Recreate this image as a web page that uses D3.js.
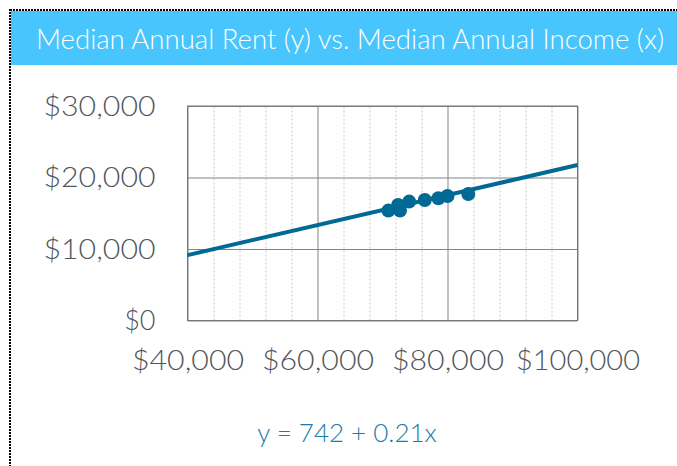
<!DOCTYPE html>
<html>
<head>
<meta charset="utf-8">
<script src="https://cdn.jsdelivr.net/npm/d3@7"></script>
<style>
  body { margin: 0; background: #fff; }
  svg { display: block; font-family: Lato, "Open Sans", sans-serif; }
  .tick text { fill: #50565c; font-weight: 300; font-family: Lato, "Open Sans", sans-serif; }
</style>
</head>
<body>
<div class="chart"></div>
<script>
// data
var income = [70900, 72400, 72700, 74100, 76500, 78600, 80000, 83200];
var rent = [15370, 16170, 15370, 16630, 16860, 17100, 17420, 17700];
var xTicks = [40000, 60000, 80000, 100000];
var yTicks = [0, 10000, 20000, 30000];
var xMinor = [44000, 48000, 52000, 56000, 64000, 68000, 72000, 76000, 84000, 88000, 92000, 96000];
var intercept = 742, slope = 0.21;
var title = 'Median Annual Rent (y) vs. Median Annual Income (x)';
var equation = 'y = 742 + 0.21x';

var W = 677, H = 466;
var margin = {top: 106, left: 187.5};
var width = 390, height = 214.5;

var svg = d3.select('.chart')
  .append('svg')
    .attr('width', W)
    .attr('height', H);

// dotted frame on top and left
svg.append('line')
  .attr('x1', 10).attr('x2', W).attr('y1', 10).attr('y2', 10)
  .attr('stroke', '#000').attr('stroke-width', 2).attr('stroke-dasharray', '2,1');
svg.append('line')
  .attr('x1', 10).attr('x2', 10).attr('y1', 9).attr('y2', H)
  .attr('stroke', '#000').attr('stroke-width', 2).attr('stroke-dasharray', '2,1');

// title banner
svg.append('rect')
  .attr('x', 11).attr('y', 11).attr('width', W - 11).attr('height', 54)
  .attr('fill', '#47c5fc');
svg.append('text')
  .attr('x', 350).attr('y', 49)
  .attr('text-anchor', 'middle')
  .attr('fill', '#fff')
  .attr('font-size', 28)
  .attr('font-weight', 300)
  .attr('textLength', 628)
  .attr('lengthAdjust', 'spacingAndGlyphs')
  .text(title);

var g = svg.append('g')
  .attr('transform', `translate(${margin.left}, ${margin.top})`);

var xScale = d3.scaleLinear()
  .domain([40000, 100000])
  .range([0, width]);

var yScale = d3.scaleLinear()
  .domain([0, 30000])
  .range([height, 0]);

// minor dotted grid
g.append('g')
  .attr('transform', `translate(0, ${height})`)
  .call(d3.axisBottom(xScale).tickValues(xMinor).tickSize(-height).tickFormat(''))
  .call(a => a.select('.domain').remove())
  .selectAll('line')
    .attr('stroke', '#c8c8c8')
    .attr('stroke-dasharray', '2,2');

// major grid
g.append('g')
  .attr('transform', `translate(0, ${height})`)
  .call(d3.axisBottom(xScale).tickValues(xTicks).tickSize(-height).tickFormat(''))
  .call(a => a.select('.domain').remove())
  .selectAll('line').attr('stroke', '#7d858c');

g.append('g')
  .call(d3.axisLeft(yScale).tickValues(yTicks).tickSize(-width).tickFormat(''))
  .call(a => a.select('.domain').remove())
  .selectAll('line').attr('stroke', '#7d858c');

g.append('rect')
  .attr('width', width).attr('height', height)
  .attr('fill', 'none').attr('stroke', '#6f777e');

// axis labels
var yAxis = g.append('g')
  .attr('font-family', null)
  .call(d3.axisLeft(yScale).tickValues(yTicks).tickSize(0).tickPadding(32).tickFormat(d3.format('$,')));
yAxis.select('.domain').remove();
yAxis.selectAll('text').attr('font-size', 27).attr('dy', '0.35em')
  .attr('textLength', function() { return this.textContent.length > 2 ? 112 : null; })
  .attr('lengthAdjust', 'spacingAndGlyphs');

var xAxis = g.append('g')
  .attr('transform', `translate(0, ${height})`)
  .call(d3.axisBottom(xScale).tickValues(xTicks).tickSize(0).tickPadding(30).tickFormat(d3.format('$,')));
xAxis.select('.domain').remove();
xAxis.selectAll('text').attr('font-size', 27)
  .attr('textLength', function() { return this.textContent.length > 7 ? 124 : 112; })
  .attr('lengthAdjust', 'spacingAndGlyphs');

// trend line
var line = d3.line()
  .x(d => xScale(d))
  .y(d => yScale(intercept + slope * d));

g.append('path')
  .datum([40000, 100000])
  .attr('d', line)
  .attr('fill', 'none')
  .attr('stroke', '#006994')
  .attr('stroke-width', 4);

g.selectAll('circle')
  .data(income)
  .enter()
  .append('circle')
    .attr('cx', d => xScale(d))
    .attr('cy', (d, i) => yScale(rent[i]))
    .attr('r', 7)
    .attr('fill', '#006994');

svg.append('text')
  .attr('x', 347).attr('y', 442)
  .attr('text-anchor', 'middle')
  .attr('fill', '#1a7ca8')
  .attr('font-size', 26)
  .attr('font-weight', 300)
  .text(equation);
</script>
</body>
</html>
